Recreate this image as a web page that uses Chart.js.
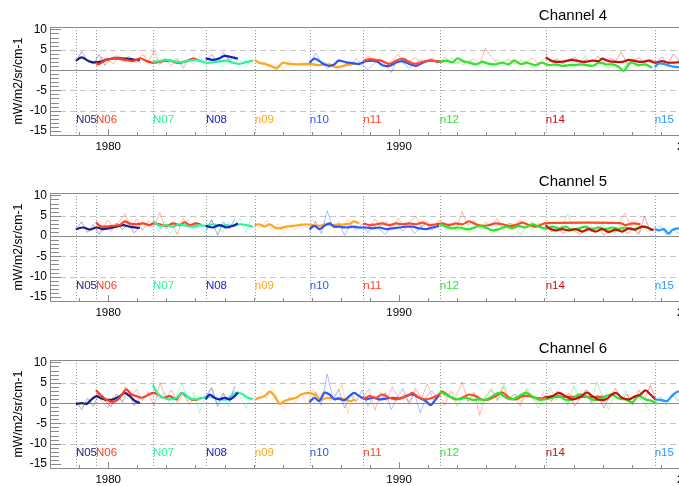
<!DOCTYPE html>
<html>
<head>
<meta charset="utf-8">
<script src="https://cdn.jsdelivr.net/npm/chart.js@4.4.1/dist/chart.umd.min.js"></script>
<style>
  body { margin: 0; background: #fff; overflow: hidden; width: 679px; height: 486px; position: relative; }
  .panel { position: absolute; left: 0; }
</style>
</head>
<body>
<div class="panel" style="top:0"><canvas id="ch4" width="720" height="166"></canvas></div>
<div class="panel" style="top:166px"><canvas id="ch5" width="720" height="166"></canvas></div>
<div class="panel" style="top:333px"><canvas id="ch6" width="720" height="166"></canvas></div>
<script>
// satellites, in launch order
const satNames = ['N05', 'N06', 'N07', 'N08', 'n09', 'n10', 'n11', 'n12', 'n14', 'n15'];
const satColors = ['#1e1e82', '#ff3c1e', '#2ef29a', '#1a1ac8', '#ffa51e', '#2a55ff', '#ff4828', '#2ce62c', '#c80f0f', '#2896ff'];
const satStarts = [1978.89, 1979.58, 1981.54, 1983.36, 1985.04, 1986.93, 1988.77, 1991.40, 1995.04, 1998.79];

const yearTicks = [1980, 1990, 2000];
const valueTicks = [-15, -10, -5, 0, 5, 10];
const dashedLevels = [5, -5, -10];
const labelLevel = -12.3;
const rawStep = 0.2; // raw series start at satStarts, one value every rawStep years

// smoothed series, [year, value]
const ch4Smooth = [
  [[1978.89,2.3],[1979.09,3.1],[1979.32,2.2],[1979.49,1.9],[1979.72,2.0],[1979.94,2.6],[1980.29,2.9],[1980.63,2.8],[1980.86,2.6],[1981.09,2.5]],
  [[1979.58,1.8],[1979.66,1.4],[1979.94,2.5],[1980.29,2.8],[1980.63,2.5],[1980.86,2.2],[1981.09,2.9],[1981.32,2.2],[1981.54,1.8],[1981.89,2.2],[1982.12,2.3],[1982.35,1.8],[1982.52,1.8],[1982.69,2.2],[1982.92,2.8],[1983.15,2.3]],
  [[1981.54,2.0],[1981.77,2.2],[1982.00,2.5],[1982.23,2.2],[1982.46,1.9],[1982.69,2.2],[1983.03,2.5],[1983.37,1.8],[1983.72,2.0],[1984.06,2.3],[1984.29,1.8],[1984.52,1.5],[1984.75,2.0],[1984.98,2.3]],
  [[1983.35,2.9],[1983.60,2.5],[1983.83,2.9],[1984.00,3.5],[1984.17,3.3],[1984.29,3.1],[1984.46,2.8]],
  [[1985.03,2.5],[1985.20,1.8],[1985.43,1.4],[1985.66,0.8],[1985.78,0.4],[1985.89,1.0],[1986.00,1.8],[1986.23,1.5],[1986.58,1.4],[1986.92,1.5],[1987.26,1.2],[1987.61,1.4],[1987.83,0.7],[1988.29,1.4],[1988.63,1.6]],
  [[1986.92,1.8],[1987.09,2.8],[1987.26,2.2],[1987.43,1.4],[1987.61,1.0],[1987.78,1.4],[1987.92,2.3],[1988.18,1.9],[1988.41,1.7],[1988.63,1.5],[1988.86,2.2],[1989.21,2.2],[1989.43,1.2],[1989.66,1.0],[1989.89,1.8],[1990.12,2.2],[1990.35,1.5],[1990.58,1.0],[1990.81,1.8],[1991.04,2.3],[1991.26,2.2],[1991.40,2.0]],
  [[1988.77,2.2],[1988.98,2.7],[1989.21,2.5],[1989.43,2.2],[1989.66,1.5],[1989.89,2.3],[1990.12,2.8],[1990.35,2.0],[1990.58,1.5],[1990.81,2.0],[1991.04,2.3],[1991.26,2.2],[1991.49,2.0]],
  [[1991.40,2.0],[1991.61,2.3],[1991.84,1.9],[1992.01,2.9],[1992.18,2.2],[1992.41,1.8],[1992.64,1.4],[1992.87,2.0],[1993.09,1.5],[1993.32,1.4],[1993.55,1.8],[1993.78,1.4],[1993.95,2.3],[1994.18,1.5],[1994.41,1.8],[1994.69,1.2],[1994.92,1.8],[1995.15,1.2],[1995.38,1.4],[1995.61,1.0],[1995.84,1.2],[1996.07,1.2],[1996.30,1.4],[1996.64,1.0],[1996.87,1.8],[1997.10,1.4],[1997.33,1.4],[1997.55,0.8],[1997.72,-0.2],[1997.90,1.4],[1998.01,1.8],[1998.24,1.2],[1998.47,1.4],[1998.70,0.6]],
  [[1995.04,3.1],[1995.27,2.2],[1995.50,2.0],[1995.72,2.2],[1995.95,2.5],[1996.18,2.2],[1996.41,2.0],[1996.64,2.3],[1996.87,2.2],[1996.98,2.8],[1997.21,2.2],[1997.44,2.0],[1997.67,2.0],[1997.90,2.5],[1998.13,2.2],[1998.35,2.0],[1998.58,2.3],[1998.81,1.8],[1999.04,2.2],[1999.27,1.8],[1999.58,1.9],[1999.90,2.1]],
  [[1998.79,0.8],[1998.93,1.6],[1999.10,1.5],[1999.33,1.0],[1999.58,0.7],[1999.90,0.9]]
];
const ch5Smooth = [
  [[1978.89,1.7],[1979.14,2.1],[1979.37,1.6],[1979.60,2.1],[1979.83,1.7],[1980.06,2.0],[1980.29,2.3],[1980.52,2.7],[1980.74,2.3],[1981.09,2.0]],
  [[1979.58,3.4],[1979.72,2.5],[1979.94,2.3],[1980.17,2.5],[1980.40,2.7],[1980.57,3.6],[1980.74,3.1],[1980.97,2.9],[1981.20,3.1],[1981.43,2.7],[1981.54,3.1],[1981.77,2.9],[1982.00,2.5],[1982.23,3.1],[1982.46,2.7],[1982.63,3.4],[1982.80,2.7],[1983.03,3.1],[1983.20,2.7]],
  [[1981.54,3.6],[1981.77,2.5],[1982.00,2.7],[1982.23,2.3],[1982.46,2.9],[1982.69,2.5],[1982.92,2.3],[1983.15,2.7],[1983.37,2.5],[1983.60,2.9],[1983.83,2.5],[1984.06,2.7],[1984.29,2.5],[1984.52,2.9],[1984.75,2.7],[1984.98,2.3]],
  [[1983.35,2.5],[1983.60,2.1],[1983.83,2.7],[1984.06,2.1],[1984.29,2.5],[1984.46,3.1]],
  [[1985.03,2.7],[1985.20,2.9],[1985.38,2.3],[1985.55,2.9],[1985.72,2.1],[1985.89,1.9],[1986.12,2.3],[1986.35,2.5],[1986.58,2.7],[1986.80,2.9],[1987.03,2.7],[1987.26,2.5],[1987.49,2.9],[1987.72,2.7],[1987.95,2.8],[1988.29,3.0],[1988.46,3.6],[1988.63,3.0]],
  [[1986.92,1.7],[1987.09,2.5],[1987.26,1.7],[1987.43,2.5],[1987.61,3.1],[1987.78,2.3],[1987.95,2.3],[1988.18,2.1],[1988.41,2.3],[1988.63,2.1],[1988.86,2.1],[1989.09,1.9],[1989.32,2.1],[1989.55,1.7],[1989.78,1.9],[1990.01,2.1],[1990.24,2.3],[1990.46,2.3],[1990.69,1.9],[1990.92,1.7],[1991.15,2.1],[1991.38,2.5]],
  [[1988.77,3.1],[1988.98,2.7],[1989.21,2.9],[1989.43,3.1],[1989.66,2.7],[1989.89,3.1],[1990.12,2.9],[1990.35,3.1],[1990.58,2.9],[1990.81,3.3],[1991.04,2.7],[1991.26,2.9],[1991.49,3.1],[1991.72,2.7],[1991.95,3.1],[1992.18,2.9],[1992.41,3.6],[1992.64,2.9],[1992.87,2.5],[1993.09,2.7],[1993.32,3.1],[1993.55,2.9],[1993.78,2.5],[1994.01,2.7],[1994.24,3.3],[1994.47,2.7],[1994.69,2.3],[1994.92,2.9],[1995.04,3.2],[1997.60,3.2],[1997.78,2.7],[1998.01,3.1],[1998.30,2.9]],
  [[1991.40,2.9],[1991.61,2.3],[1991.84,1.9],[1992.07,2.1],[1992.29,1.7],[1992.52,1.9],[1992.75,2.5],[1992.98,2.1],[1993.21,1.4],[1993.44,1.7],[1993.67,2.3],[1993.89,1.9],[1994.12,2.5],[1994.35,2.1],[1994.58,2.9],[1994.81,2.3],[1995.04,1.9],[1995.27,2.3],[1995.50,1.9],[1995.72,2.3],[1995.95,1.6],[1996.18,1.9],[1996.41,2.3],[1996.64,1.7],[1996.87,2.1],[1997.10,1.7],[1997.33,2.1],[1997.55,1.7],[1997.78,2.1],[1998.01,1.6],[1998.24,2.1],[1998.47,2.3],[1998.70,1.4]],
  [[1995.04,2.7],[1995.15,1.9],[1995.38,1.4],[1995.61,1.7],[1995.84,1.4],[1996.07,1.7],[1996.30,1.1],[1996.52,1.7],[1996.75,1.1],[1996.98,1.7],[1997.21,1.0],[1997.44,1.6],[1997.67,1.1],[1997.90,1.9],[1998.13,1.6],[1998.35,2.3],[1998.53,2.1],[1998.75,1.4]],
  [[1998.79,1.7],[1998.93,1.4],[1999.10,1.7],[1999.27,0.6],[1999.38,1.4],[1999.58,1.9],[1999.90,1.6]]
];
const ch6Smooth = [
  [[1978.89,-0.2],[1979.09,0.0],[1979.26,-0.2],[1979.43,0.9],[1979.60,1.7],[1979.72,1.3],[1979.94,0.8],[1980.17,0.9],[1980.40,1.7],[1980.57,2.5],[1980.74,1.7],[1980.92,0.5],[1981.09,0.0]],
  [[1979.58,3.2],[1979.72,2.1],[1979.94,0.8],[1980.17,0.3],[1980.34,0.9],[1980.52,2.5],[1980.63,3.4],[1980.80,2.1],[1980.97,1.7],[1981.14,1.3],[1981.32,1.8],[1981.54,2.5],[1981.72,2.1],[1981.89,1.3],[1982.12,1.7],[1982.35,0.9],[1982.52,2.5],[1982.69,1.7],[1982.86,0.9],[1983.03,0.8],[1983.20,1.3]],
  [[1981.54,4.4],[1981.72,2.1],[1981.89,1.3],[1982.12,0.9],[1982.35,1.3],[1982.57,2.5],[1982.80,1.1],[1983.03,0.9],[1983.26,1.3],[1983.43,1.7],[1983.60,1.3],[1983.83,0.9],[1984.06,0.9],[1984.29,2.1],[1984.46,2.6],[1984.63,2.1],[1984.80,1.3],[1984.98,0.9]],
  [[1983.35,0.9],[1983.49,2.1],[1983.66,1.3],[1983.83,0.9],[1984.00,1.3],[1984.17,0.9],[1984.35,1.7],[1984.46,2.6]],
  [[1985.03,0.8],[1985.20,1.3],[1985.38,1.7],[1985.55,2.8],[1985.72,1.7],[1985.89,-0.2],[1986.06,0.5],[1986.23,0.9],[1986.46,1.3],[1986.63,2.1],[1986.86,2.5],[1987.09,2.1],[1987.32,0.9],[1987.55,1.3],[1987.78,1.1],[1987.95,1.3],[1988.29,0.5],[1988.52,0.8]],
  [[1986.92,0.2],[1987.09,1.3],[1987.26,0.5],[1987.43,2.5],[1987.61,2.1],[1987.78,0.9],[1987.92,1.1],[1988.12,0.7],[1988.29,1.7],[1988.46,2.5],[1988.63,1.7],[1988.86,0.9],[1989.09,1.3],[1989.32,0.9],[1989.55,1.1],[1989.78,1.3],[1990.01,1.1],[1990.24,1.7],[1990.46,2.1],[1990.69,1.3],[1990.92,0.5],[1991.09,-0.5],[1991.26,0.9],[1991.40,2.1]],
  [[1988.77,0.9],[1988.98,1.7],[1989.21,1.3],[1989.43,2.1],[1989.66,1.3],[1989.89,0.9],[1990.12,1.3],[1990.35,2.1],[1990.46,2.5],[1990.69,1.3],[1990.92,0.9],[1991.15,1.3],[1991.38,2.1],[1991.49,2.8],[1991.72,1.7],[1991.95,0.9],[1992.18,1.3],[1992.41,2.1],[1992.64,1.7],[1992.87,0.8],[1993.09,0.9],[1993.32,1.7],[1993.55,2.6],[1993.78,1.3],[1994.01,0.9],[1994.24,1.7],[1994.47,1.7],[1994.69,1.3],[1994.92,1.1],[1995.04,1.5],[1997.10,1.5]],
  [[1991.40,2.8],[1991.61,2.1],[1991.84,1.3],[1992.07,0.9],[1992.29,1.3],[1992.52,0.8],[1992.75,0.9],[1992.98,0.8],[1993.21,1.7],[1993.44,2.5],[1993.67,1.3],[1993.89,0.9],[1994.12,1.7],[1994.35,2.5],[1994.58,1.7],[1994.81,0.8],[1995.04,0.9],[1995.27,1.3],[1995.50,1.7],[1995.72,0.8],[1995.95,0.9],[1996.18,2.1],[1996.41,1.7],[1996.64,0.9],[1996.87,0.8],[1997.10,1.7],[1997.33,2.1],[1997.55,1.1],[1997.78,0.9],[1998.01,0.2],[1998.24,1.7],[1998.47,0.9],[1998.70,0.5],[1998.87,-0.2]],
  [[1995.04,1.3],[1995.27,1.7],[1995.50,2.5],[1995.72,1.7],[1995.95,0.9],[1996.18,1.3],[1996.47,2.6],[1996.64,1.7],[1996.87,0.8],[1997.10,0.9],[1997.44,2.5],[1997.67,1.3],[1997.90,0.9],[1998.13,1.7],[1998.30,2.1],[1998.47,3.1],[1998.64,2.1],[1998.81,0.9]],
  [[1998.79,0.9],[1998.98,0.8],[1999.21,0.5],[1999.38,1.7],[1999.58,2.8],[1999.90,2.2]]
];

// raw (unsmoothed) values, every rawStep years from each satStart
const ch4Raw = [
  [2.0, 4.6, 2.2, 1.5, 3.8, 1.2, 2.9, 3.5, 2.1, 3.3, 2.6, 1.9],
  [1.0, 3.2, 2.4, 1.6, 3.5, 2.0, 2.8, 1.7, 3.9, 2.1, 4.6, 1.5, 2.4, 1.1, 2.9, 0.4, 2.6, 3.1],
  [2.8, 1.2, 3.0, 1.8, 2.7, 0.9, 2.5, 1.4, 3.3, 1.0, 2.6, 2.2, 0.8, 2.9, 1.6, 2.4, 0.7, 2.9],
  [2.2, 3.8, 1.9, 4.3, 2.4, 3.4],
  [2.8, 1.5, 2.0, 0.6, 1.2, 0.2, 2.3, 1.1, 1.9, 1.0, 1.7, 1.3, 2.0, 0.9, 1.6, 0.5, 1.2, 1.8, 1.0],
  [1.2, 4.2, 1.8, 0.3, 1.5, 2.6, 1.9, 1.0, 2.8, 1.4, 0.1, 1.6, 2.7, 1.2, -0.6, 2.4, 1.9, 0.4, 1.5, 2.6, 1.7, 2.9, 1.3],
  [2.6, 3.4, 1.9, 2.8, 1.3, 2.5, 3.9, 1.6, 2.2, 3.1, 1.4, 2.4, 2.9, 1.7, 3.2, 2.1, 1.5, 2.6, 1.9, 2.8, 1.4, 5.4, 3.3, 1.8, 2.0, 2.7, 1.5, 2.4, 1.9, 3.0, 1.6, 2.5],
  [2.4, 1.6, 3.1, 2.0, 1.2, 2.3, 1.8, 0.9, 2.2, 1.5, 2.6, 1.0, 1.9, 2.8, 1.3, 1.7, 0.6, 2.0, 1.4, 2.4, 0.8, 1.6, 1.1, 2.1, 1.5, 3.6, 1.2, 0.9, 1.8, 0.4, 1.6, -0.6, 1.3, 2.0, 0.9, 1.6, 0.5],
  [3.8, 2.0, 2.8, 1.6, 2.6, 3.1, 1.8, 2.5, 2.0, 3.4, 1.7, 2.9, 2.2, 4.4, 1.6, 2.4, 3.0, 1.9, 2.6, 2.1, 3.2, 1.5, 4.0, 2.2, 1.8, 2.6],
  [0.4, 1.9, 0.8, 2.2, 0.6, 1.4, 0.3, 1.1]
];
const ch5Raw = [
  [1.5, 3.5, 0.9, 2.8, 0.4, 2.5, 1.2, 3.2, 1.6, 2.9, 0.8, 2.2],
  [3.0, 1.2, 4.0, 2.2, 3.6, 5.5, 2.0, 4.2, 1.4, 3.8, 2.4, 5.8, 1.6, 3.2, 0.4, 4.4, 2.2, 3.4],
  [4.5, 1.0, 3.6, 0.6, 3.0, 2.0, 4.2, 1.4, 3.2, 0.8, 3.8, 2.0, 1.0, 3.4, 2.2, 4.4, 0.8, 4.8],
  [1.4, 4.0, 0.2, 3.5, 1.8, 4.2],
  [3.4, 2.0, 3.8, 1.4, 3.0, 0.8, 2.6, 1.6, 3.2, 2.0, 4.0, 1.8, 3.6, 2.4, 3.2, 1.6, 4.2, 2.2, 3.4],
  [1.0, 3.6, 0.6, 6.2, 2.0, 3.4, 0.2, 2.8, 1.4, 3.0, 0.8, 2.6, 1.6, 0.4, 2.4, 3.2, 1.2, 2.8, 0.6, 2.2, 3.0, 1.4, 2.6],
  [3.8, 2.2, 4.2, 2.4, 3.6, 1.8, 4.4, 2.6, 3.4, 5.0, 2.2, 3.6, 1.8, 4.0, 2.6, 3.2, 2.0, 6.0, 2.6, 3.8, 2.0, 3.4, 2.6, 4.4, 1.6, 3.2, 2.8, 4.0, 2.2, 3.4, 2.6, 3.0,
   null, null, null, null, null, null, null, null, null, null, null, null, 3.5, 5.6, 2.4, 3.8],
  [3.4, 1.8, 2.6, 1.2, 2.4, 0.8, 3.0, 1.6, 2.2, 0.6, 2.8, 1.4, 3.2, 1.8, 0.4, 2.6, 1.6, 3.4, 1.2, 2.2, 0.8, 2.6, 5.4, 1.4, 2.0, 0.6, 2.4, 1.2, 3.0, 1.6, 0.8, 2.6, 1.4, 2.2, 0.6, 1.8, 1.0],
  [2.8, 1.0, 2.2, 0.6, 1.8, 1.2, 0.4, 2.0, 1.0, 2.4, 0.2, 1.6, 1.0, 2.2, 0.6, 1.8, 0.4, 4.8, 1.2, 2.4],
  [1.0, 2.6, 0.2, 1.8, 0.6, 2.2, 1.2, 2.0]
];
const ch6Raw = [
  [0.4, -1.6, 1.2, -0.8, 2.4, 0.6, -1.0, 2.2, 0.2, 3.0, -0.6, 1.2],
  [2.4, 0.4, -1.2, 1.6, 0.8, 4.0, 1.8, 3.4, 0.6, 2.6, -0.8, 5.0, 1.2, 3.2, 0.2, 2.2, -0.4, 1.8],
  [4.6, 0.8, 2.8, -0.6, 1.6, 4.8, 0.4, 2.6, -2.4, 1.8, 3.6, 0.2, 2.4, -1.0, 3.2, 1.6, -1.4, 2.2],
  [1.6, 3.8, -0.8, 2.4, 0.4, 4.2],
  [0.6, 2.4, 1.0, 3.6, 0.8, -1.4, 1.6, 0.2, 2.2, -0.6, 3.4, 1.8, 3.0, 0.4, 2.0, 4.6, -2.6, 1.8, 0.6],
  [0.2, 2.8, -0.6, 7.2, 1.0, 3.4, -1.2, 2.0, 0.4, 3.2, -0.8, 1.8, 0.4, 2.6, -1.6, 1.2, 3.6, 0.2, 2.4, -2.4, 1.4, 3.0, 0.6],
  [1.6, 3.4, -1.8, 2.6, 0.6, 4.0, 1.2, 2.2, -0.4, 3.6, 1.0, 4.8, 0.8, 2.4, -0.6, 3.0, 1.8, 5.2, 0.4, 2.8, -3.0, 1.6, 3.4, 0.6, 4.0, 1.2, 2.2, -0.8, 3.2, 1.4, 0.2, 2.6],
  [4.4, 1.2, 2.6, -0.8, 1.8, 0.4, 2.4, -0.4, 1.6, 3.2, 0.8, 4.6, 1.2, 2.2, 0.2, 3.6, 1.0, -1.2, 2.0, 3.8, 0.6, 2.4, -0.6, 4.2, 1.2, 2.8, 0.0, 5.2, 1.4, -1.6, 2.2, 0.8, 3.0, -0.4, 1.6, 0.2, -1.8],
  [1.8, 0.4, 3.0, 1.2, 2.4, -0.8, 1.4, 3.4, 0.2, 2.0, -1.2, 1.6, 3.6, 0.8, 2.2, -0.4, 3.2, 1.0, 4.4, 0.6],
  [0.2, 1.6, -0.6, 2.4, 0.4, 3.2, 1.8, 4.0]
];

const fontFamily = '"Liberation Sans", Arial, sans-serif';

function fade(hex, a) {
  const n = parseInt(hex.slice(1), 16);
  return `rgba(${n >> 16}, ${(n >> 8) & 255}, ${n & 255}, ${a})`;
}

// frame, reference lines, inward ticks, satellite labels and title
const framePlugin = {
  id: 'frame',
  beforeDatasetsDraw(chart) {
    const {ctx, chartArea: a, scales: {x, y}} = chart;
    ctx.save();
    ctx.lineWidth = 1;
    ctx.strokeStyle = '#c4c4c4';
    ctx.setLineDash([6, 4]);
    dashedLevels.forEach(v => {
      const py = Math.round(y.getPixelForValue(v)) + 0.5;
      ctx.beginPath(); ctx.moveTo(a.left, py); ctx.lineTo(a.right, py); ctx.stroke();
    });
    ctx.strokeStyle = '#9a9a9a';
    ctx.setLineDash([1, 2]);
    satStarts.forEach(s => {
      const px = Math.round(x.getPixelForValue(s)) + 0.5;
      ctx.beginPath(); ctx.moveTo(px, a.top); ctx.lineTo(px, a.bottom); ctx.stroke();
    });
    ctx.setLineDash([]);
    ctx.strokeStyle = '#8a8a8a';
    const zy = Math.round(y.getPixelForValue(0)) + 0.5;
    ctx.beginPath(); ctx.moveTo(a.left, zy); ctx.lineTo(a.right, zy); ctx.stroke();
    ctx.restore();
  },
  afterDatasetsDraw(chart, args, opts) {
    const {ctx, chartArea: a, scales: {x, y}} = chart;
    ctx.save();
    ctx.lineWidth = 1;
    ctx.strokeStyle = '#8a8a8a';
    // top frame
    ctx.beginPath(); ctx.moveTo(a.left, a.top + 0.5); ctx.lineTo(a.right, a.top + 0.5); ctx.stroke();
    // y ticks, one per unit
    for (let v = Math.ceil(y.min); v <= y.max; v++) {
      const py = Math.round(y.getPixelForValue(v)) + 0.5;
      const len = v % 5 === 0 ? 11 : 9;
      ctx.beginPath(); ctx.moveTo(a.left, py); ctx.lineTo(a.left + len, py); ctx.stroke();
    }
    // x ticks, one per year
    for (let yr = Math.ceil(x.min); yr <= x.max; yr++) {
      const px = Math.round(x.getPixelForValue(yr)) + 0.5;
      const len = yearTicks.includes(yr) ? 6 : 3;
      ctx.beginPath(); ctx.moveTo(px, a.bottom); ctx.lineTo(px, a.bottom - len); ctx.stroke();
    }
    // satellite names
    ctx.font = '11.5px ' + fontFamily;
    ctx.textBaseline = 'middle';
    ctx.textAlign = 'left';
    const ly = y.getPixelForValue(labelLevel);
    satNames.forEach((name, i) => {
      ctx.fillStyle = satColors[i];
      ctx.fillText(name, x.getPixelForValue(satStarts[i]), ly);
    });
    // channel title
    ctx.fillStyle = '#000';
    ctx.font = '15px ' + fontFamily;
    ctx.textAlign = 'center';
    ctx.fillText(opts.title, 573, 15.5);
    ctx.restore();
  }
};

function makePanel(id, title, smooth, raw) {
  const datasets = [];
  raw.forEach((vals, i) => {
    datasets.push({
      data: vals.map((v, k) => ({x: satStarts[i] + k * rawStep, y: v})),
      borderColor: fade(satColors[i], 0.38),
      borderWidth: 1,
      pointRadius: 0,
      tension: 0,
      order: 100 - i
    });
  });
  smooth.forEach((pts, i) => {
    datasets.push({
      data: pts.map(p => ({x: p[0], y: p[1]})),
      borderColor: satColors[i],
      borderWidth: 2.2,
      pointRadius: 0,
      tension: 0.3,
      order: 20 - i
    });
  });

  new Chart(document.getElementById(id), {
    type: 'line',
    data: {datasets},
    options: {
      responsive: false,
      animation: false,
      devicePixelRatio: 1,
      layout: {padding: {top: 27, right: 1, left: 0, bottom: 0}},
      plugins: {
        legend: {display: false},
        tooltip: {enabled: false},
        frame: {title}
      },
      scales: {
        x: {
          type: 'linear',
          min: 1978,
          max: 2001,
          afterBuildTicks: axis => { axis.ticks = yearTicks.map(v => ({value: v})); },
          afterFit: axis => { axis.height = 31; },
          grid: {display: false, drawTicks: false},
          border: {display: true, color: '#8a8a8a', width: 1},
          ticks: {
            autoSkip: false, maxRotation: 0, padding: 5, color: '#000',
            font: {family: fontFamily, size: 11.5},
            callback: v => String(v)
          }
        },
        y: {
          min: -16,
          max: 10.6,
          afterBuildTicks: axis => { axis.ticks = valueTicks.map(v => ({value: v})); },
          afterFit: axis => { axis.width = 50; },
          grid: {display: false, drawTicks: false},
          border: {display: true, color: '#8a8a8a', width: 1},
          ticks: {
            padding: 3, color: '#000',
            font: {family: fontFamily, size: 12},
            callback: v => String(v)
          },
          title: {
            display: true,
            text: 'mW/m2/sr/cm-1',
            color: '#000',
            font: {family: fontFamily, size: 12.3},
            padding: {top: 11, bottom: 0}
          }
        }
      }
    },
    plugins: [framePlugin]
  });
}

makePanel('ch4', 'Channel 4', ch4Smooth, ch4Raw);
makePanel('ch5', 'Channel 5', ch5Smooth, ch5Raw);
makePanel('ch6', 'Channel 6', ch6Smooth, ch6Raw);
</script>
</body>
</html>
